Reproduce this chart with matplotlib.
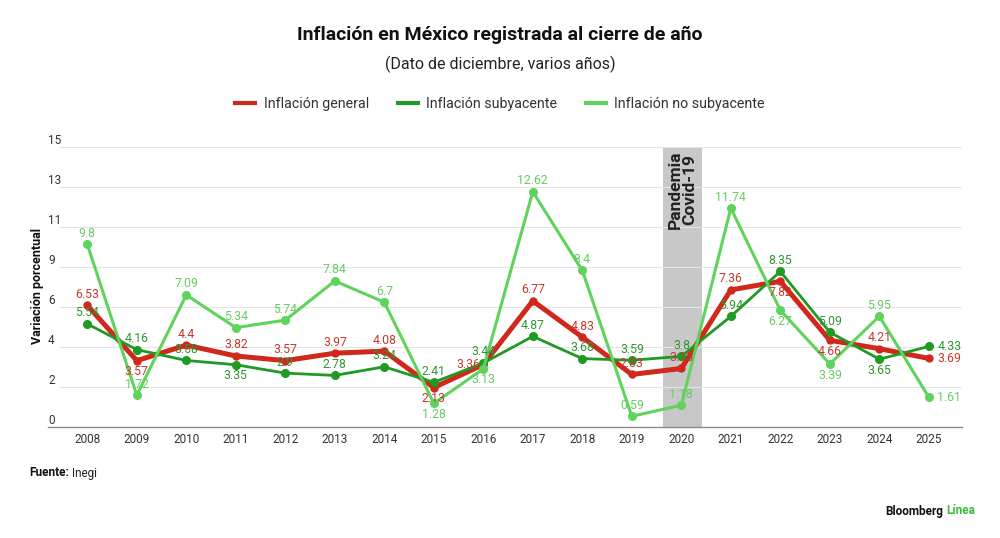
import matplotlib.pyplot as plt
import numpy as np
from matplotlib.lines import Line2D

plt.rcParams['font.family'] = ['Roboto', 'DejaVu Sans']

years = np.arange(2008, 2026)
general = [6.53, 3.57, 4.4, 3.82, 3.57, 3.97, 4.08, 2.13, 3.36, 6.77,
           4.83, 2.83, 3.15, 7.36, 7.82, 4.66, 4.21, 3.69]
subyacente = [5.54, 4.16, 3.58, 3.35, 2.9, 2.78, 3.24, 2.41, 3.44, 4.87,
              3.68, 3.59, 3.8, 5.94, 8.35, 5.09, 3.65, 4.33]
no_subyacente = [9.8, 1.72, 7.09, 5.34, 5.74, 7.84, 6.7, 1.28, 3.13, 12.62,
                 8.4, 0.59, 1.18, 11.74, 6.27, 3.39, 5.95, 1.61]

# where each value label goes: a=above, b=below, l=left, r=right
pos_general = list('abaaaaablaaaaabbar')
pos_sub = list('aaabaaaaaaaaaaaabr')
pos_nosub = list('aaaaaaabbaaaaabbar')

c_red = '#d0281c'
c_dgreen = '#1f9a22'
c_lgreen = '#5fd35b'

fig = plt.figure(figsize=(10, 5.38), dpi=100)
ax = fig.add_axes([0.048, 0.2058, 0.914, 0.5204])

ax.set_xlim(2007.206, 2025.67)
ax.set_ylim(0, 15)

# pandemic band
ax.axvspan(2019.63, 2020.42, color='#c8c8c8', zorder=0, lw=0)
ax.text(2020.025, 14.85, 'Pandemia\nCovid-19', rotation=90, ha='center', va='top',
        fontsize=12.5, fontweight='bold', color='#222222', linespacing=0.9, zorder=1)

yt = np.linspace(0, 15, 8)
for v in yt[1:]:
    ax.plot([2007.45, 2025.67], [v, v], color='#e4e4e4', lw=0.8, zorder=0.5)
ax.set_yticks(yt)
ax.set_yticklabels([f'{v:.0f}' for v in yt])
ax.tick_params(axis='y', length=0, pad=0, labelsize=8.5, labelcolor='#333333')
for lbl in ax.get_yticklabels():
    lbl.set_ha('left')
    lbl.set_va('bottom')

ax.set_xticks(years)
ax.set_xticklabels([str(y) for y in years])
ax.tick_params(axis='x', length=0, pad=4, labelsize=8.5, labelcolor='#333333')

for s in ['top', 'right', 'left']:
    ax.spines[s].set_visible(False)
ax.spines['bottom'].set_color('#8a8a8a')
ax.spines['bottom'].set_linewidth(1)

ax.plot(years, general, color=c_red, lw=3.6, marker='o', ms=5, zorder=3,
        solid_capstyle='round', solid_joinstyle='round')
ax.plot(years, subyacente, color=c_dgreen, lw=2, marker='o', ms=5.5, zorder=4)
ax.plot(years, no_subyacente, color=c_lgreen, lw=2.2, marker='o', ms=5.5, zorder=5)

offs = {'a': (0, 8, 'center'), 'b': (0, -8, 'center'),
        'l': (-11, 0, 'center'), 'r': (6, 0, 'left')}


def label_series(vals, poss, col):
    for x, v, p in zip(years, vals, poss):
        dx, dy, ha = offs[p]
        ax.annotate(f'{v:g}', (x, v), xytext=(dx, dy), textcoords='offset points',
                    ha=ha, va='center', fontsize=8.8, color=col, zorder=6)


label_series(general, pos_general, '#c8392d')
label_series(subyacente, pos_sub, '#2f962f')
label_series(no_subyacente, pos_nosub, '#66cc62')

fig.text(0.5, 1 - 35 / 538, 'Inflación en México registrada al cierre de año',
         ha='center', va='center', fontsize=14, fontweight='bold', color='#111111')
fig.text(0.5, 1 - 64 / 538, '(Dato de diciembre, varios años)',
         ha='center', va='center', fontsize=11.5, color='#222222')

handles = [Line2D([], [], color=c_red, lw=3),
           Line2D([], [], color=c_dgreen, lw=3),
           Line2D([], [], color=c_lgreen, lw=3)]
fig.legend(handles, ['Inflación general', 'Inflación subyacente', 'Inflación no subyacente'],
           loc='center', bbox_to_anchor=(0.5, 1 - 104 / 538), ncol=3, frameon=False,
           fontsize=10.3, handlelength=1.4, columnspacing=2.0, handletextpad=0.6,
           labelcolor='#333333')

fig.text(0.037, 1 - 286 / 538, 'Variación porcentual', rotation=90, ha='center',
         va='center', fontsize=9, fontweight='bold', color='#111111')

fig.text(0.029, 1 - 473 / 538, 'Fuente:', ha='left', va='center', fontsize=8.5,
         fontweight='bold', color='#111111')
fig.text(0.072, 1 - 473 / 538, 'Inegi', ha='left', va='center', fontsize=8.5,
         color='#222222')
fig.text(0.943, 1 - 511 / 538, 'Bloomberg', ha='right', va='center', fontsize=8.5,
         fontweight='bold', color='#111111')
fig.text(0.946, 1 - 511 / 538, 'Línea', ha='left', va='center', fontsize=8.5,
         fontweight='bold', color='#3cb83c')

fig.savefig('out.png', dpi=100, facecolor='white')
